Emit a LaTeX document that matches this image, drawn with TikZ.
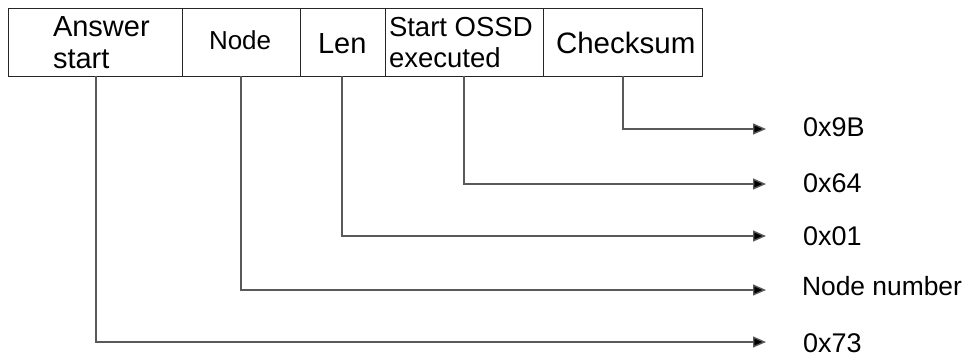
\documentclass[tikz,border=0pt]{standalone}
\usepackage{fontspec}
\setmainfont{Liberation Sans}
\usetikzlibrary{arrows.meta}
\begin{document}
\begin{tikzpicture}[x=1pt,y=-1pt,
  fieldbox/.style={draw=black!85,line width=1.3pt,rectangle,minimum height=67.5pt,inner sep=0pt,anchor=north west},
  txt/.style={anchor=base west,inner sep=0pt,outer sep=0pt},
  lbl/.style={anchor=west,inner sep=0pt,outer sep=0pt,font=\fontsize{27}{30}\selectfont},
  conn/.style={draw=black!65,line width=1.4pt,-{Triangle[length=13pt,width=11pt,fill=black]}}
]
\useasboundingbox (0,0) rectangle (966,356);
% fields
\node[fieldbox,minimum width=174pt] (fa) at (8,8) {};
\node[fieldbox,minimum width=118pt] (fb) at (182,8) {};
\node[fieldbox,minimum width=85pt] (fc) at (300,8) {};
\node[fieldbox,minimum width=158pt] (fd) at (385,8) {};
\node[fieldbox,minimum width=159pt] (fe) at (543,8) {};
% field texts
\node[txt,font=\fontsize{29}{32}\selectfont] (ta1) at (53,36) {Answer};
\node[txt,font=\fontsize{29}{32}\selectfont] (ta2) at (53,68) {start};
\node[txt,font=\fontsize{26}{30}\selectfont] (tb) at (209,49.7) {Node};
\node[txt,font=\fontsize{29}{32}\selectfont] (tc) at (318,53) {Len};
\node[txt,font=\fontsize{27.5}{31}\selectfont] (td1) at (389,36) {Start OSSD};
\node[txt,font=\fontsize{27.5}{31}\selectfont] (td2) at (389,67) {executed};
\node[txt,font=\fontsize{29.5}{32}\selectfont] (te) at (556,53) {Checksum};
% output labels
\node[lbl] (l5) at (803,127.5) {0x9B};
\node[lbl] (l4) at (803,183) {0x64};
\node[lbl] (l3) at (803,236.5) {0x01};
\node[lbl,font=\fontsize{26.4}{30}\selectfont] (l2) at (802,286) {Node number};
\node[lbl] (l1) at (803,343) {0x73};
% tap points and arrow ends
\coordinate (s5) at (623,75.7); \coordinate (e5) at (766,129);
\coordinate (s4) at (464,75.7); \coordinate (e4) at (766,184);
\coordinate (s3) at (342,75.7); \coordinate (e3) at (766,236);
\coordinate (s2) at (241,75.7); \coordinate (e2) at (766,290);
\coordinate (s1) at (96,75.7);  \coordinate (e1) at (766,342);
\draw[conn] (s5) |- (e5);
\draw[conn] (s4) |- (e4);
\draw[conn] (s3) |- (e3);
\draw[conn] (s2) |- (e2);
\draw[conn] (s1) |- (e1);
\end{tikzpicture}
\end{document}
